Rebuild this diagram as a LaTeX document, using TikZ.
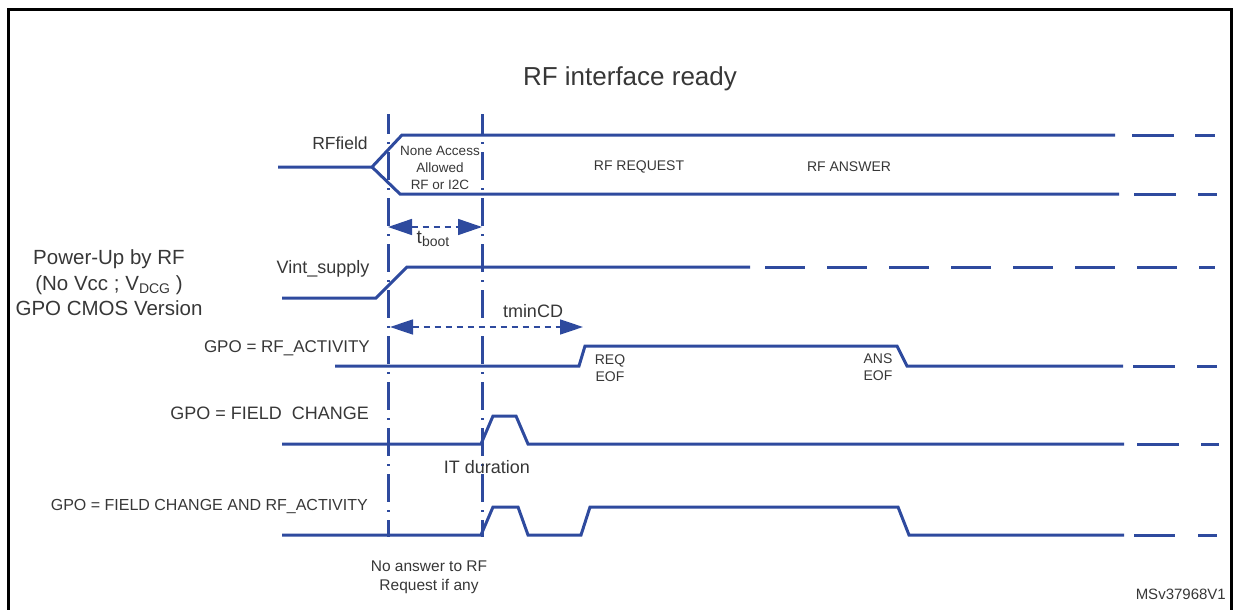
\documentclass[tikz,border=0pt]{standalone}
\usepackage{fontspec}
\setmainfont{Liberation Sans}
\usetikzlibrary{arrows.meta}
\definecolor{sigblue}{RGB}{46,74,158}
\definecolor{txtgray}{RGB}{55,55,55}
\begin{document}
\begin{tikzpicture}[x=1pt,y=-1pt,
  sig/.style={draw=sigblue,line width=3pt,line join=miter},
  marker/.style={draw=sigblue,line width=3pt,dash pattern={on 28pt off 8pt on 2pt off 8pt},dash phase=8pt},
  meas/.style={draw=sigblue,line width=1.6pt,dash pattern={on 6pt off 5pt},
    {Triangle[length=24pt,width=16pt]}-{Triangle[length=24pt,width=16pt]}},
  lbl/.style={text=txtgray,inner sep=0pt,font=\fontsize{#1}{#1}\selectfont},
  lbl/.default=17.5,
  ml/.style 2 args={text=txtgray,inner sep=0pt,align=center,font=\fontsize{#1}{#2}\selectfont}
]
\useasboundingbox (0,0) rectangle (1237,610);
% frame
\draw[line width=3pt] (8,10) rectangle (1231,625);

% vertical markers
\coordinate (m1t) at (388,114);
\coordinate (m1b) at (388,537);
\coordinate (m2t) at (482,114);
\coordinate (m2b) at (482,537);
\draw[marker] (m1t) -- (m1b);
\draw[marker] (m2t) -- (m2b);

% heading
\node[lbl=26] (ready) at (630,79) {RF interface ready};

% RF field
\node[lbl=17.5] (rff) at (340,143) {RFfield};
\draw[sig] (278,167) -- (372,167) -- (402,135) -- (1115,135);
\draw[sig] (1132,135) -- (1174,135);
\draw[sig] (1195,135) -- (1215,135);
\draw[sig] (372,167) -- (400,194) -- (1119,194);
\draw[sig] (1134,194) -- (1176,194);
\draw[sig] (1198,194) -- (1217,194);
\node[ml={13.5}{17}] (none) at (440,168) {None Access\\Allowed\\RF or I2C};
\node[lbl=14] (req) at (639,167) {RF REQUEST};
\node[lbl=14] (ans) at (849,167) {RF ANSWER};

% tboot
\coordinate (tb1) at (388,227);
\coordinate (tb2) at (482,227);
\draw[meas] (tb1) -- (tb2);
\node[lbl=19] (tboot) at (433,239) {t\raisebox{-0.35ex}{\fontsize{14}{14}\selectfont boot}};

% power-up text
\node[ml={20.5}{25.5}] (pwr) at (109,283) {Power-Up by RF\\(No Vcc ; V\raisebox{-0.3ex}{\fontsize{14}{14}\selectfont DCG} )\\GPO CMOS Version};

% Vint
\node[lbl=18] (vint) at (323,269) {Vint\_supply};
\draw[sig] (282,298) -- (376,298) -- (407,267) -- (750,267);
\draw[sig,dash pattern={on 40pt off 22pt}] (765,267) -- (1215,267);

% tminCD
\coordinate (tc1) at (390,327);
\coordinate (tc2) at (583,327);
\draw[meas,{Triangle[length=23pt,width=15pt]}-{Triangle[length=23pt,width=15pt]}] (tc1) -- (tc2);
\node[lbl=18] (tmin) at (533,311) {tminCD};

% RF activity
\node[lbl=17,anchor=east] (gpo1) at (370,348) {GPO = RF\_ACTIVITY};
\draw[sig] (335,366) -- (579,366) -- (585,346) -- (897,346) -- (907,366) -- (1123,366);
\draw[sig] (1133,366) -- (1175,366);
\draw[sig] (1197,366) -- (1217,366);
\node[ml={14}{17}] (reqeof) at (610,368) {REQ\\EOF};
\node[ml={14}{17}] (anseof) at (878,367) {ANS\\EOF};

% field change
\node[lbl=18,anchor=east] (gpo2) at (369,413) {GPO = FIELD\ \ CHANGE};
\draw[sig] (282,444) -- (481,444) -- (493,416) -- (516,416) -- (528,444) -- (1124,444);
\draw[sig] (1137,444) -- (1179,444);
\draw[sig] (1201,444) -- (1219,444);
\node[lbl=18] (itd) at (487,467) {IT duration};

% combined
\node[lbl=16,anchor=east] (gpo3) at (368,506) {GPO = FIELD CHANGE AND RF\_ACTIVITY};
\draw[sig] (282,535) -- (481,535) -- (493,507) -- (518,507) -- (528,535) -- (581,535) -- (590,507) -- (898,507) -- (909,535) -- (1124,535);
\draw[sig] (1134,535) -- (1175,535);
\draw[sig] (1198,535) -- (1217,535);

\node[ml={15.5}{19}] (noans) at (429,577) {No answer to RF\\Request if any};
\node[lbl=15,anchor=east] (msv) at (1226,594) {MSv37968V1};
\end{tikzpicture}
\end{document}
